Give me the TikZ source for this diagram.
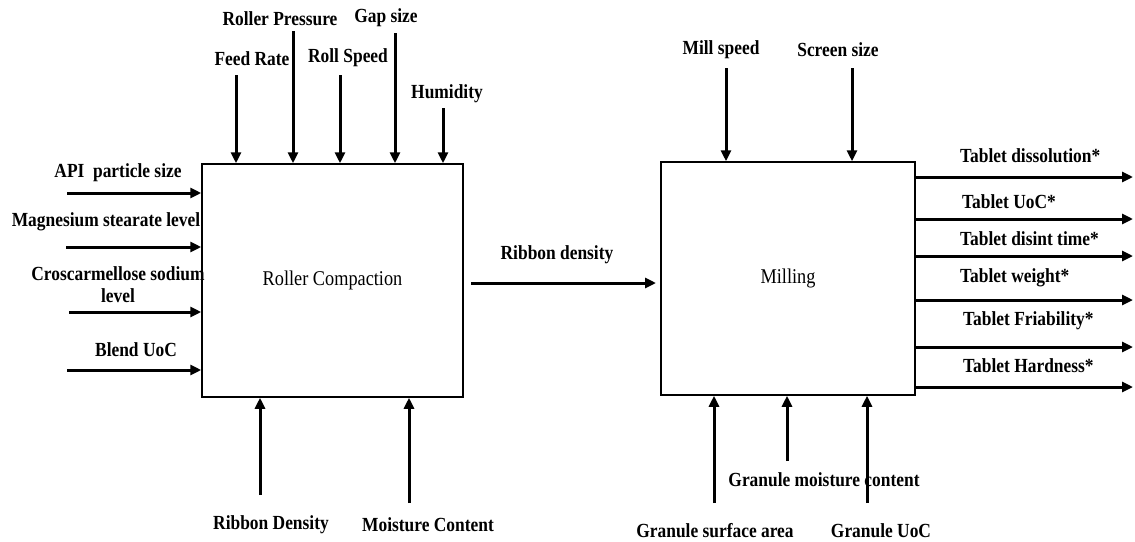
\documentclass[tikz,border=0pt]{standalone}
\usepackage{fontspec}
\setmainfont{Liberation Serif}[FakeStretch=0.87]
\usetikzlibrary{arrows.meta}

\begin{document}
\begin{tikzpicture}[x=1pt, y=-1pt]
    \tikzstyle{proc} = [draw, line width=1.5pt, rectangle, inner sep=0pt, font=\fontsize{21}{23}\selectfont]
    \tikzstyle{lbl} = [inner sep=0pt, font=\fontsize{20}{22}\selectfont\bfseries]
    \tikzstyle{flow} = [line width=3pt, -{Triangle[length=11pt, width=10pt]}]

    \useasboundingbox (0,0) rectangle (1135,541);

    \node[proc, minimum width=261, minimum height=233] (rc) at (332.5,280.5) {Roller Compaction};
    \node[proc, minimum width=254, minimum height=233] (ml) at (788,278.5) {Milling};

    % inputs of roller compaction
    \foreach \n/\x/\y in {fr/236/75, rp/293/31, rs/340/75, gs/395/33, hu/443/108}
    \coordinate (\n) at (\x,\y);
    \foreach \n in {fr, rp, rs, gs, hu}
    \draw[flow] (\n) -- (\n |- rc.north);

    \node[lbl] (frL) at (252,59) {Feed Rate};
    \node[lbl] (rpL) at (280,19) {Roller Pressure};
    \node[lbl] (rsL) at (348,58) {Roll Speed};
    \node[lbl] (gsL) at (386,18) {Gap size};
    \node[lbl] (huL) at (447,94) {Humidity};

    \foreach \n/\x/\y in {api/67/193, mg/66/247, cs/69/312, bu/67/370}
    \coordinate (\n) at (\x,\y);
    \foreach \n in {api, mg, cs, bu}
    \draw[flow] (\n) -- (\n -| rc.west);

    \node[lbl] (apiL) at (118,173) {API\ \ particle size};
    \node[lbl] (mgL) at (106,222) {Magnesium stearate level};
    \node[lbl, align=center] (csL) at (118,285) {Croscarmellose sodium\\level};
    \node[lbl] (buL) at (136,350) {Blend UoC};

    \foreach \n/\x/\y in {rbd/260/495, mc/409/503}
    \coordinate (\n) at (\x,\y);
    \foreach \n in {rbd, mc}
    \draw[flow] (\n) -- (\n |- rc.south);

    \node[lbl] (rbdL) at (271,525) {Ribbon Density};
    \node[lbl] (mcL) at (428,525) {Moisture Content};

    % ribbon to milling
    \coordinate (rb1) at (471,283);
    \coordinate (rb2) at (656,283);
    \draw[flow] (rb1) -- (rb2);
    \node[lbl] (rbL) at (557,255) {Ribbon density};

    % inputs of milling
    \foreach \n/\x/\y in {ms/726/68, ss/852/68}
    \coordinate (\n) at (\x,\y);
    \foreach \n in {ms, ss}
    \draw[flow] (\n) -- (\n |- ml.north);

    \node[lbl] (msL) at (721,50) {Mill speed};
    \node[lbl] (ssL) at (838,50) {Screen size};

    \foreach \n/\x/\y in {gsa/714/503, gmc/787/461, guc/867/503}
    \coordinate (\n) at (\x,\y);
    \foreach \n in {gsa, gmc, guc}
    \draw[flow] (\n) -- (\n |- ml.south);

    \node[lbl] (gmcL) at (824,480) {Granule moisture content};
    \node[lbl] (gsaL) at (715,531) {Granule surface area};
    \node[lbl] (gucL) at (881,531) {Granule UoC};

    % outputs
    \foreach \n/\y in {td/177, tu/219, tt/256, tw/300, tf/347, th/387}
    \coordinate (\n) at (1133,\y);
    \foreach \n in {td, tu, tt, tw, tf, th}
    \draw[flow] (\n -| ml.east) -- (\n);

    \node[lbl, anchor=west] (tdL) at (960,156) {Tablet dissolution*};
    \node[lbl, anchor=west] (tuL) at (962,202) {Tablet UoC*};
    \node[lbl, anchor=west] (ttL) at (960,239) {Tablet disint time*};
    \node[lbl, anchor=west] (twL) at (960,278) {Tablet weight*};
    \node[lbl, anchor=west] (tfL) at (963,321) {Tablet Friability*};
    \node[lbl, anchor=west] (thL) at (963,366) {Tablet Hardness*};
\end{tikzpicture}
\end{document}
